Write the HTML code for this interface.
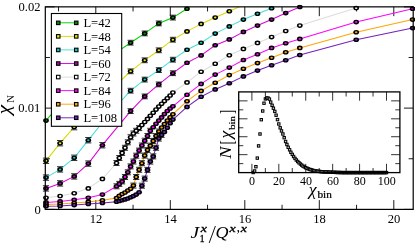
<!DOCTYPE html>
<html><head><meta charset="utf-8"><title>chi_N</title>
<style>
html,body{margin:0;padding:0;background:#fff;}
body{width:415px;height:243px;overflow:hidden;font-family:"Liberation Serif",serif;}
svg text.s{font-family:"Liberation Serif",serif;fill:#000;}
svg{will-change:transform;}
svg text.i{font-style:italic;}
</style></head><body>
<svg width="415" height="243" viewBox="0 0 415 243" style="display:block">
<rect x="0" y="0" width="415" height="243" fill="#fff"/>
<defs><clipPath id="cp"><rect x="41.8" y="4.85" width="373.4" height="207.55"/></clipPath><clipPath id="cl"><rect x="45.3" y="6.85" width="367.9" height="202.55"/></clipPath></defs>
<path d="M58.55 209.4 v-4.6 M58.55 6.85 v4.6 M95.80 209.4 v-9.3 M95.80 6.85 v9.3 M133.05 209.4 v-4.6 M133.05 6.85 v4.6 M170.30 209.4 v-9.3 M170.30 6.85 v9.3 M207.55 209.4 v-4.6 M207.55 6.85 v4.6 M244.80 209.4 v-9.3 M244.80 6.85 v9.3 M282.05 209.4 v-4.6 M282.05 6.85 v4.6 M319.30 209.4 v-9.3 M319.30 6.85 v9.3 M356.55 209.4 v-4.6 M356.55 6.85 v4.6 M393.80 209.4 v-9.3 M393.80 6.85 v9.3 M45.3 209.40 h9.3 M413.2 209.40 h-9.3 M45.3 158.76 h4.6 M413.2 158.76 h-4.6 M45.3 108.12 h9.3 M413.2 108.12 h-9.3 M45.3 57.49 h4.6 M413.2 57.49 h-4.6 M45.3 6.85 h9.3 M413.2 6.85 h-9.3" stroke="#000" stroke-width="0.9" fill="none"/>
<g clip-path="url(#cl)"><path d="M46.0 120.6 L60.1 104.1 L74.2 89.1 L88.3 75.6 L102.4 63.4 L116.5 52.4 L130.6 42.7 L144.7 33.4 L158.8 23.4 L172.9 17.6 L187.0 8.8" stroke="#00d000" stroke-width="1.05" fill="none"/></g>
<g clip-path="url(#cp)"><path d="M113.4 50.0 h6.2 M113.4 54.8 h6.2 M127.5 40.3 h6.2 M127.5 45.1 h6.2 M141.6 31.0 h6.2 M141.6 35.8 h6.2 M155.7 21.0 h6.2 M155.7 25.8 h6.2 M169.8 15.2 h6.2 M169.8 20.0 h6.2" stroke="#000" stroke-width="0.8" fill="none"/><ellipse cx="46.0" cy="120.6" rx="2.85" ry="2.3" fill="#000"/><ellipse cx="46.0" cy="120.6" rx="1.25" ry="1.0" fill="#008b00"/><ellipse cx="60.1" cy="104.1" rx="2.85" ry="2.3" fill="#000"/><ellipse cx="60.1" cy="104.1" rx="1.25" ry="1.0" fill="#008b00"/><ellipse cx="74.2" cy="89.1" rx="2.85" ry="2.3" fill="#000"/><ellipse cx="74.2" cy="89.1" rx="1.25" ry="1.0" fill="#008b00"/><ellipse cx="88.3" cy="75.6" rx="2.85" ry="2.3" fill="#000"/><ellipse cx="88.3" cy="75.6" rx="1.25" ry="1.0" fill="#008b00"/><ellipse cx="102.4" cy="63.4" rx="2.85" ry="2.3" fill="#000"/><ellipse cx="102.4" cy="63.4" rx="1.25" ry="1.0" fill="#008b00"/><ellipse cx="116.5" cy="52.4" rx="2.85" ry="2.3" fill="#000"/><ellipse cx="116.5" cy="52.4" rx="1.25" ry="1.0" fill="#008b00"/><ellipse cx="130.6" cy="42.7" rx="2.85" ry="2.3" fill="#000"/><ellipse cx="130.6" cy="42.7" rx="1.25" ry="1.0" fill="#008b00"/><ellipse cx="144.7" cy="33.4" rx="2.85" ry="2.3" fill="#000"/><ellipse cx="144.7" cy="33.4" rx="1.25" ry="1.0" fill="#008b00"/><ellipse cx="158.8" cy="23.4" rx="2.85" ry="2.3" fill="#000"/><ellipse cx="158.8" cy="23.4" rx="1.25" ry="1.0" fill="#008b00"/><ellipse cx="172.9" cy="17.6" rx="2.85" ry="2.3" fill="#000"/><ellipse cx="172.9" cy="17.6" rx="1.25" ry="1.0" fill="#008b00"/><ellipse cx="187.0" cy="8.8" rx="2.85" ry="2.3" fill="#000"/><ellipse cx="187.0" cy="8.8" rx="1.25" ry="1.0" fill="#008b00"/></g>
<g clip-path="url(#cl)"><path d="M46.0 160.8 L60.1 143.2 L74.2 127.1 L88.3 112.0 L102.4 98.0 L116.5 84.5 L130.6 71.3 L144.7 60.3 L158.8 50.3 L172.9 39.7 L187.0 31.4 L201.1 23.9 L215.2 17.6 L229.3 11.3 L243.4 5.0" stroke="#d8d800" stroke-width="1.05" fill="none"/></g>
<g clip-path="url(#cp)"><path d="M42.9 158.1 h6.2 M42.9 163.5 h6.2 M57.0 140.5 h6.2 M57.0 145.9 h6.2 M71.1 124.4 h6.2 M71.1 129.8 h6.2 M85.2 109.3 h6.2 M85.2 114.7 h6.2 M99.3 95.3 h6.2 M99.3 100.7 h6.2 M113.4 82.1 h6.2 M113.4 86.9 h6.2 M127.5 68.9 h6.2 M127.5 73.7 h6.2 M141.6 57.9 h6.2 M141.6 62.7 h6.2 M155.7 47.9 h6.2 M155.7 52.7 h6.2 M169.8 37.3 h6.2 M169.8 42.1 h6.2" stroke="#000" stroke-width="0.8" fill="none"/><ellipse cx="46.0" cy="160.8" rx="2.85" ry="2.3" fill="#000"/><ellipse cx="46.0" cy="160.8" rx="1.25" ry="1.0" fill="#e6e600"/><ellipse cx="60.1" cy="143.2" rx="2.85" ry="2.3" fill="#000"/><ellipse cx="60.1" cy="143.2" rx="1.25" ry="1.0" fill="#e6e600"/><ellipse cx="74.2" cy="127.1" rx="2.85" ry="2.3" fill="#000"/><ellipse cx="74.2" cy="127.1" rx="1.25" ry="1.0" fill="#e6e600"/><ellipse cx="88.3" cy="112.0" rx="2.85" ry="2.3" fill="#000"/><ellipse cx="88.3" cy="112.0" rx="1.25" ry="1.0" fill="#e6e600"/><ellipse cx="102.4" cy="98.0" rx="2.85" ry="2.3" fill="#000"/><ellipse cx="102.4" cy="98.0" rx="1.25" ry="1.0" fill="#e6e600"/><ellipse cx="116.5" cy="84.5" rx="2.85" ry="2.3" fill="#000"/><ellipse cx="116.5" cy="84.5" rx="1.25" ry="1.0" fill="#e6e600"/><ellipse cx="130.6" cy="71.3" rx="2.85" ry="2.3" fill="#000"/><ellipse cx="130.6" cy="71.3" rx="1.25" ry="1.0" fill="#e6e600"/><ellipse cx="144.7" cy="60.3" rx="2.85" ry="2.3" fill="#000"/><ellipse cx="144.7" cy="60.3" rx="1.25" ry="1.0" fill="#e6e600"/><ellipse cx="158.8" cy="50.3" rx="2.85" ry="2.3" fill="#000"/><ellipse cx="158.8" cy="50.3" rx="1.25" ry="1.0" fill="#e6e600"/><ellipse cx="172.9" cy="39.7" rx="2.85" ry="2.3" fill="#000"/><ellipse cx="172.9" cy="39.7" rx="1.25" ry="1.0" fill="#e6e600"/><ellipse cx="187.0" cy="31.4" rx="2.85" ry="2.3" fill="#000"/><ellipse cx="187.0" cy="31.4" rx="1.25" ry="1.0" fill="#e6e600"/><ellipse cx="201.1" cy="23.9" rx="2.85" ry="2.3" fill="#000"/><ellipse cx="201.1" cy="23.9" rx="1.25" ry="1.0" fill="#e6e600"/><ellipse cx="215.2" cy="17.6" rx="2.85" ry="2.3" fill="#000"/><ellipse cx="215.2" cy="17.6" rx="1.25" ry="1.0" fill="#e6e600"/><ellipse cx="229.3" cy="11.3" rx="2.85" ry="2.3" fill="#000"/><ellipse cx="229.3" cy="11.3" rx="1.25" ry="1.0" fill="#e6e600"/></g>
<g clip-path="url(#cl)"><path d="M46.0 177.6 L60.1 169.4 L74.2 157.8 L88.3 140.2 L102.4 122.5 L116.5 106.0 L130.6 90.7 L144.7 79.6 L158.8 70.1 L172.9 59.7 L187.0 49.7 L201.1 42.7 L215.2 33.6 L229.3 26.4 L243.4 19.6 L257.5 13.8 L271.6 8.3" stroke="#40e0d0" stroke-width="1.05" fill="none"/></g>
<g clip-path="url(#cp)"><path d="M42.9 174.9 h6.2 M42.9 180.3 h6.2 M57.0 166.7 h6.2 M57.0 172.1 h6.2 M71.1 155.1 h6.2 M71.1 160.5 h6.2 M85.2 137.5 h6.2 M85.2 142.9 h6.2 M99.3 119.8 h6.2 M99.3 125.2 h6.2 M113.4 103.6 h6.2 M113.4 108.4 h6.2 M127.5 88.3 h6.2 M127.5 93.1 h6.2 M141.6 77.2 h6.2 M141.6 82.0 h6.2 M155.7 67.7 h6.2 M155.7 72.5 h6.2 M169.8 57.3 h6.2 M169.8 62.1 h6.2" stroke="#000" stroke-width="0.8" fill="none"/><ellipse cx="46.0" cy="177.6" rx="2.85" ry="2.3" fill="#000"/><ellipse cx="46.0" cy="177.6" rx="1.25" ry="1.0" fill="#00c8c8"/><ellipse cx="60.1" cy="169.4" rx="2.85" ry="2.3" fill="#000"/><ellipse cx="60.1" cy="169.4" rx="1.25" ry="1.0" fill="#00c8c8"/><ellipse cx="74.2" cy="157.8" rx="2.85" ry="2.3" fill="#000"/><ellipse cx="74.2" cy="157.8" rx="1.25" ry="1.0" fill="#00c8c8"/><ellipse cx="88.3" cy="140.2" rx="2.85" ry="2.3" fill="#000"/><ellipse cx="88.3" cy="140.2" rx="1.25" ry="1.0" fill="#00c8c8"/><ellipse cx="102.4" cy="122.5" rx="2.85" ry="2.3" fill="#000"/><ellipse cx="102.4" cy="122.5" rx="1.25" ry="1.0" fill="#00c8c8"/><ellipse cx="116.5" cy="106.0" rx="2.85" ry="2.3" fill="#000"/><ellipse cx="116.5" cy="106.0" rx="1.25" ry="1.0" fill="#00c8c8"/><ellipse cx="130.6" cy="90.7" rx="2.85" ry="2.3" fill="#000"/><ellipse cx="130.6" cy="90.7" rx="1.25" ry="1.0" fill="#00c8c8"/><ellipse cx="144.7" cy="79.6" rx="2.85" ry="2.3" fill="#000"/><ellipse cx="144.7" cy="79.6" rx="1.25" ry="1.0" fill="#00c8c8"/><ellipse cx="158.8" cy="70.1" rx="2.85" ry="2.3" fill="#000"/><ellipse cx="158.8" cy="70.1" rx="1.25" ry="1.0" fill="#00c8c8"/><ellipse cx="172.9" cy="59.7" rx="2.85" ry="2.3" fill="#000"/><ellipse cx="172.9" cy="59.7" rx="1.25" ry="1.0" fill="#00c8c8"/><ellipse cx="187.0" cy="49.7" rx="2.85" ry="2.3" fill="#000"/><ellipse cx="187.0" cy="49.7" rx="1.25" ry="1.0" fill="#00c8c8"/><ellipse cx="201.1" cy="42.7" rx="2.85" ry="2.3" fill="#000"/><ellipse cx="201.1" cy="42.7" rx="1.25" ry="1.0" fill="#00c8c8"/><ellipse cx="215.2" cy="33.6" rx="2.85" ry="2.3" fill="#000"/><ellipse cx="215.2" cy="33.6" rx="1.25" ry="1.0" fill="#00c8c8"/><ellipse cx="229.3" cy="26.4" rx="2.85" ry="2.3" fill="#000"/><ellipse cx="229.3" cy="26.4" rx="1.25" ry="1.0" fill="#00c8c8"/><ellipse cx="243.4" cy="19.6" rx="2.85" ry="2.3" fill="#000"/><ellipse cx="243.4" cy="19.6" rx="1.25" ry="1.0" fill="#00c8c8"/><ellipse cx="257.5" cy="13.8" rx="2.85" ry="2.3" fill="#000"/><ellipse cx="257.5" cy="13.8" rx="1.25" ry="1.0" fill="#00c8c8"/><ellipse cx="271.6" cy="8.3" rx="2.85" ry="2.3" fill="#000"/><ellipse cx="271.6" cy="8.3" rx="1.25" ry="1.0" fill="#00c8c8"/></g>
<g clip-path="url(#cl)"><path d="M46.0 188.4 L60.1 183.4 L74.2 176.4 L88.3 163.6 L102.4 145.2 L130.6 111.1 L144.7 96.4 L158.8 84.4 L172.9 73.2 L187.0 62.8 L201.1 55.4 L215.2 45.2 L229.3 39.4 L243.4 31.9 L257.5 25.6 L271.6 19.6 L285.7 13.1 L299.8 7.0" stroke="#e000e0" stroke-width="1.05" fill="none"/></g>
<g clip-path="url(#cp)"><path d="M42.9 185.7 h6.2 M42.9 191.1 h6.2 M57.0 180.7 h6.2 M57.0 186.1 h6.2 M71.1 173.7 h6.2 M71.1 179.1 h6.2 M85.2 160.9 h6.2 M85.2 166.3 h6.2 M99.3 142.5 h6.2 M99.3 147.9 h6.2 M127.5 108.7 h6.2 M127.5 113.5 h6.2 M141.6 94.0 h6.2 M141.6 98.8 h6.2 M155.7 82.0 h6.2 M155.7 86.8 h6.2 M169.8 70.8 h6.2 M169.8 75.6 h6.2" stroke="#000" stroke-width="0.8" fill="none"/><ellipse cx="46.0" cy="188.4" rx="2.85" ry="2.3" fill="#000"/><ellipse cx="46.0" cy="188.4" rx="1.25" ry="1.0" fill="#b000b0"/><ellipse cx="60.1" cy="183.4" rx="2.85" ry="2.3" fill="#000"/><ellipse cx="60.1" cy="183.4" rx="1.25" ry="1.0" fill="#b000b0"/><ellipse cx="74.2" cy="176.4" rx="2.85" ry="2.3" fill="#000"/><ellipse cx="74.2" cy="176.4" rx="1.25" ry="1.0" fill="#b000b0"/><ellipse cx="88.3" cy="163.6" rx="2.85" ry="2.3" fill="#000"/><ellipse cx="88.3" cy="163.6" rx="1.25" ry="1.0" fill="#b000b0"/><ellipse cx="102.4" cy="145.2" rx="2.85" ry="2.3" fill="#000"/><ellipse cx="102.4" cy="145.2" rx="1.25" ry="1.0" fill="#b000b0"/><ellipse cx="130.6" cy="111.1" rx="2.85" ry="2.3" fill="#000"/><ellipse cx="130.6" cy="111.1" rx="1.25" ry="1.0" fill="#b000b0"/><ellipse cx="144.7" cy="96.4" rx="2.85" ry="2.3" fill="#000"/><ellipse cx="144.7" cy="96.4" rx="1.25" ry="1.0" fill="#b000b0"/><ellipse cx="158.8" cy="84.4" rx="2.85" ry="2.3" fill="#000"/><ellipse cx="158.8" cy="84.4" rx="1.25" ry="1.0" fill="#b000b0"/><ellipse cx="172.9" cy="73.2" rx="2.85" ry="2.3" fill="#000"/><ellipse cx="172.9" cy="73.2" rx="1.25" ry="1.0" fill="#b000b0"/><ellipse cx="187.0" cy="62.8" rx="2.85" ry="2.3" fill="#000"/><ellipse cx="187.0" cy="62.8" rx="1.25" ry="1.0" fill="#b000b0"/><ellipse cx="201.1" cy="55.4" rx="2.85" ry="2.3" fill="#000"/><ellipse cx="201.1" cy="55.4" rx="1.25" ry="1.0" fill="#b000b0"/><ellipse cx="215.2" cy="45.2" rx="2.85" ry="2.3" fill="#000"/><ellipse cx="215.2" cy="45.2" rx="1.25" ry="1.0" fill="#b000b0"/><ellipse cx="229.3" cy="39.4" rx="2.85" ry="2.3" fill="#000"/><ellipse cx="229.3" cy="39.4" rx="1.25" ry="1.0" fill="#b000b0"/><ellipse cx="243.4" cy="31.9" rx="2.85" ry="2.3" fill="#000"/><ellipse cx="243.4" cy="31.9" rx="1.25" ry="1.0" fill="#b000b0"/><ellipse cx="257.5" cy="25.6" rx="2.85" ry="2.3" fill="#000"/><ellipse cx="257.5" cy="25.6" rx="1.25" ry="1.0" fill="#b000b0"/><ellipse cx="271.6" cy="19.6" rx="2.85" ry="2.3" fill="#000"/><ellipse cx="271.6" cy="19.6" rx="1.25" ry="1.0" fill="#b000b0"/><ellipse cx="285.7" cy="13.1" rx="2.85" ry="2.3" fill="#000"/><ellipse cx="285.7" cy="13.1" rx="1.25" ry="1.0" fill="#b000b0"/><ellipse cx="299.8" cy="7.0" rx="2.85" ry="2.3" fill="#000"/><ellipse cx="299.8" cy="7.0" rx="1.25" ry="1.0" fill="#b000b0"/></g>
<g clip-path="url(#cl)"><path d="M46.0 197.7 L60.1 196.0 L74.2 193.2 L88.3 188.4 L102.4 178.9 L116.5 163.0 L119.3 158.0 L122.1 152.9 L125.0 147.8 L127.8 142.3 L130.6 137.2 L133.4 133.5 L136.2 130.8 L139.1 128.1 L141.9 125.1 L144.7 122.0 L147.5 118.9 L150.3 115.8 L153.2 112.7 L156.0 109.6 L158.8 106.6 L161.6 103.8 L164.4 101.1 L167.3 98.3 L170.1 95.5 L172.9 92.5 L187.0 82.4 L201.1 71.7 L215.2 63.8 L229.3 55.2 L243.4 48.9 L257.5 42.9 L271.6 37.1 L285.7 31.0 L299.8 25.6 L356.2 8.0" stroke="#dcdcdc" stroke-width="1.05" fill="none"/></g>
<g clip-path="url(#cp)"><path d="M113.4 160.5 h6.2 M113.4 165.5 h6.2 M116.2 155.5 h6.2 M116.2 160.5 h6.2 M119.0 150.4 h6.2 M119.0 155.4 h6.2 M121.9 145.3 h6.2 M121.9 150.3 h6.2 M124.7 139.8 h6.2 M124.7 144.8 h6.2 M127.5 134.7 h6.2 M127.5 139.7 h6.2 M130.3 131.0 h6.2 M130.3 136.0 h6.2 M133.1 128.3 h6.2 M133.1 133.3 h6.2 M136.0 125.6 h6.2 M136.0 130.6 h6.2" stroke="#000" stroke-width="0.8" fill="none"/><ellipse cx="46.0" cy="197.7" rx="2.85" ry="2.3" fill="#000"/><ellipse cx="46.0" cy="197.7" rx="1.25" ry="1.0" fill="#ffffff"/><ellipse cx="60.1" cy="196.0" rx="2.85" ry="2.3" fill="#000"/><ellipse cx="60.1" cy="196.0" rx="1.25" ry="1.0" fill="#ffffff"/><ellipse cx="74.2" cy="193.2" rx="2.85" ry="2.3" fill="#000"/><ellipse cx="74.2" cy="193.2" rx="1.25" ry="1.0" fill="#ffffff"/><ellipse cx="88.3" cy="188.4" rx="2.85" ry="2.3" fill="#000"/><ellipse cx="88.3" cy="188.4" rx="1.25" ry="1.0" fill="#ffffff"/><ellipse cx="102.4" cy="178.9" rx="2.85" ry="2.3" fill="#000"/><ellipse cx="102.4" cy="178.9" rx="1.25" ry="1.0" fill="#ffffff"/><ellipse cx="116.5" cy="163.0" rx="2.85" ry="2.3" fill="#000"/><ellipse cx="116.5" cy="163.0" rx="1.25" ry="1.0" fill="#ffffff"/><ellipse cx="119.3" cy="158.0" rx="2.85" ry="2.3" fill="#000"/><ellipse cx="119.3" cy="158.0" rx="1.25" ry="1.0" fill="#ffffff"/><ellipse cx="122.1" cy="152.9" rx="2.85" ry="2.3" fill="#000"/><ellipse cx="122.1" cy="152.9" rx="1.25" ry="1.0" fill="#ffffff"/><ellipse cx="125.0" cy="147.8" rx="2.85" ry="2.3" fill="#000"/><ellipse cx="125.0" cy="147.8" rx="1.25" ry="1.0" fill="#ffffff"/><ellipse cx="127.8" cy="142.3" rx="2.85" ry="2.3" fill="#000"/><ellipse cx="127.8" cy="142.3" rx="1.25" ry="1.0" fill="#ffffff"/><ellipse cx="130.6" cy="137.2" rx="2.85" ry="2.3" fill="#000"/><ellipse cx="130.6" cy="137.2" rx="1.25" ry="1.0" fill="#ffffff"/><ellipse cx="133.4" cy="133.5" rx="2.85" ry="2.3" fill="#000"/><ellipse cx="133.4" cy="133.5" rx="1.25" ry="1.0" fill="#ffffff"/><ellipse cx="136.2" cy="130.8" rx="2.85" ry="2.3" fill="#000"/><ellipse cx="136.2" cy="130.8" rx="1.25" ry="1.0" fill="#ffffff"/><ellipse cx="139.1" cy="128.1" rx="2.85" ry="2.3" fill="#000"/><ellipse cx="139.1" cy="128.1" rx="1.25" ry="1.0" fill="#ffffff"/><ellipse cx="141.9" cy="125.1" rx="2.85" ry="2.3" fill="#000"/><ellipse cx="141.9" cy="125.1" rx="1.25" ry="1.0" fill="#ffffff"/><ellipse cx="144.7" cy="122.0" rx="2.85" ry="2.3" fill="#000"/><ellipse cx="144.7" cy="122.0" rx="1.25" ry="1.0" fill="#ffffff"/><ellipse cx="147.5" cy="118.9" rx="2.85" ry="2.3" fill="#000"/><ellipse cx="147.5" cy="118.9" rx="1.25" ry="1.0" fill="#ffffff"/><ellipse cx="150.3" cy="115.8" rx="2.85" ry="2.3" fill="#000"/><ellipse cx="150.3" cy="115.8" rx="1.25" ry="1.0" fill="#ffffff"/><ellipse cx="153.2" cy="112.7" rx="2.85" ry="2.3" fill="#000"/><ellipse cx="153.2" cy="112.7" rx="1.25" ry="1.0" fill="#ffffff"/><ellipse cx="156.0" cy="109.6" rx="2.85" ry="2.3" fill="#000"/><ellipse cx="156.0" cy="109.6" rx="1.25" ry="1.0" fill="#ffffff"/><ellipse cx="158.8" cy="106.6" rx="2.85" ry="2.3" fill="#000"/><ellipse cx="158.8" cy="106.6" rx="1.25" ry="1.0" fill="#ffffff"/><ellipse cx="161.6" cy="103.8" rx="2.85" ry="2.3" fill="#000"/><ellipse cx="161.6" cy="103.8" rx="1.25" ry="1.0" fill="#ffffff"/><ellipse cx="164.4" cy="101.1" rx="2.85" ry="2.3" fill="#000"/><ellipse cx="164.4" cy="101.1" rx="1.25" ry="1.0" fill="#ffffff"/><ellipse cx="167.3" cy="98.3" rx="2.85" ry="2.3" fill="#000"/><ellipse cx="167.3" cy="98.3" rx="1.25" ry="1.0" fill="#ffffff"/><ellipse cx="170.1" cy="95.5" rx="2.85" ry="2.3" fill="#000"/><ellipse cx="170.1" cy="95.5" rx="1.25" ry="1.0" fill="#ffffff"/><ellipse cx="172.9" cy="92.5" rx="2.85" ry="2.3" fill="#000"/><ellipse cx="172.9" cy="92.5" rx="1.25" ry="1.0" fill="#ffffff"/><ellipse cx="187.0" cy="82.4" rx="2.85" ry="2.3" fill="#000"/><ellipse cx="187.0" cy="82.4" rx="1.25" ry="1.0" fill="#ffffff"/><ellipse cx="201.1" cy="71.7" rx="2.85" ry="2.3" fill="#000"/><ellipse cx="201.1" cy="71.7" rx="1.25" ry="1.0" fill="#ffffff"/><ellipse cx="215.2" cy="63.8" rx="2.85" ry="2.3" fill="#000"/><ellipse cx="215.2" cy="63.8" rx="1.25" ry="1.0" fill="#ffffff"/><ellipse cx="229.3" cy="55.2" rx="2.85" ry="2.3" fill="#000"/><ellipse cx="229.3" cy="55.2" rx="1.25" ry="1.0" fill="#ffffff"/><ellipse cx="243.4" cy="48.9" rx="2.85" ry="2.3" fill="#000"/><ellipse cx="243.4" cy="48.9" rx="1.25" ry="1.0" fill="#ffffff"/><ellipse cx="257.5" cy="42.9" rx="2.85" ry="2.3" fill="#000"/><ellipse cx="257.5" cy="42.9" rx="1.25" ry="1.0" fill="#ffffff"/><ellipse cx="271.6" cy="37.1" rx="2.85" ry="2.3" fill="#000"/><ellipse cx="271.6" cy="37.1" rx="1.25" ry="1.0" fill="#ffffff"/><ellipse cx="285.7" cy="31.0" rx="2.85" ry="2.3" fill="#000"/><ellipse cx="285.7" cy="31.0" rx="1.25" ry="1.0" fill="#ffffff"/><ellipse cx="299.8" cy="25.6" rx="2.85" ry="2.3" fill="#000"/><ellipse cx="299.8" cy="25.6" rx="1.25" ry="1.0" fill="#ffffff"/><ellipse cx="356.2" cy="8.0" rx="2.85" ry="2.3" fill="#000"/><ellipse cx="356.2" cy="8.0" rx="1.25" ry="1.0" fill="#ffffff"/></g>
<g clip-path="url(#cl)"><path d="M46.0 202.4 L60.1 201.4 L74.2 199.8 L88.3 197.7 L102.4 194.6 L116.5 186.3 L119.3 183.9 L122.1 181.4 L125.0 177.0 L127.8 172.3 L130.6 166.4 L133.4 161.5 L136.2 155.7 L139.1 150.6 L141.9 145.5 L144.7 140.7 L147.5 136.0 L150.3 130.8 L153.2 127.2 L156.0 123.8 L158.8 120.6 L161.6 117.4 L164.4 114.1 L167.3 111.0 L170.1 108.5 L172.9 106.3 L187.0 94.7 L201.1 83.9 L215.2 74.6 L229.3 67.6 L243.4 60.0 L257.5 54.3 L271.6 47.9 L285.7 43.2 L299.8 38.9 L356.2 22.1 L412.6 8.8" stroke="#ff00ff" stroke-width="1.05" fill="none"/></g>
<g clip-path="url(#cp)"><path d="M113.4 183.8 h6.2 M113.4 188.8 h6.2 M116.2 181.4 h6.2 M116.2 186.4 h6.2 M119.0 178.9 h6.2 M119.0 183.9 h6.2 M121.9 174.5 h6.2 M121.9 179.5 h6.2 M124.7 169.8 h6.2 M124.7 174.8 h6.2 M127.5 163.9 h6.2 M127.5 168.9 h6.2 M130.3 159.0 h6.2 M130.3 164.0 h6.2 M133.1 153.2 h6.2 M133.1 158.2 h6.2 M136.0 148.1 h6.2 M136.0 153.1 h6.2 M138.8 143.0 h6.2 M138.8 148.0 h6.2 M141.6 138.2 h6.2 M141.6 143.2 h6.2 M144.4 133.5 h6.2 M144.4 138.5 h6.2 M147.2 128.3 h6.2 M147.2 133.3 h6.2" stroke="#000" stroke-width="0.8" fill="none"/><ellipse cx="46.0" cy="202.4" rx="2.85" ry="2.3" fill="#000"/><ellipse cx="46.0" cy="202.4" rx="1.25" ry="1.0" fill="#ff00ff"/><ellipse cx="60.1" cy="201.4" rx="2.85" ry="2.3" fill="#000"/><ellipse cx="60.1" cy="201.4" rx="1.25" ry="1.0" fill="#ff00ff"/><ellipse cx="74.2" cy="199.8" rx="2.85" ry="2.3" fill="#000"/><ellipse cx="74.2" cy="199.8" rx="1.25" ry="1.0" fill="#ff00ff"/><ellipse cx="88.3" cy="197.7" rx="2.85" ry="2.3" fill="#000"/><ellipse cx="88.3" cy="197.7" rx="1.25" ry="1.0" fill="#ff00ff"/><ellipse cx="102.4" cy="194.6" rx="2.85" ry="2.3" fill="#000"/><ellipse cx="102.4" cy="194.6" rx="1.25" ry="1.0" fill="#ff00ff"/><ellipse cx="116.5" cy="186.3" rx="2.85" ry="2.3" fill="#000"/><ellipse cx="116.5" cy="186.3" rx="1.25" ry="1.0" fill="#ff00ff"/><ellipse cx="119.3" cy="183.9" rx="2.85" ry="2.3" fill="#000"/><ellipse cx="119.3" cy="183.9" rx="1.25" ry="1.0" fill="#ff00ff"/><ellipse cx="122.1" cy="181.4" rx="2.85" ry="2.3" fill="#000"/><ellipse cx="122.1" cy="181.4" rx="1.25" ry="1.0" fill="#ff00ff"/><ellipse cx="125.0" cy="177.0" rx="2.85" ry="2.3" fill="#000"/><ellipse cx="125.0" cy="177.0" rx="1.25" ry="1.0" fill="#ff00ff"/><ellipse cx="127.8" cy="172.3" rx="2.85" ry="2.3" fill="#000"/><ellipse cx="127.8" cy="172.3" rx="1.25" ry="1.0" fill="#ff00ff"/><ellipse cx="130.6" cy="166.4" rx="2.85" ry="2.3" fill="#000"/><ellipse cx="130.6" cy="166.4" rx="1.25" ry="1.0" fill="#ff00ff"/><ellipse cx="133.4" cy="161.5" rx="2.85" ry="2.3" fill="#000"/><ellipse cx="133.4" cy="161.5" rx="1.25" ry="1.0" fill="#ff00ff"/><ellipse cx="136.2" cy="155.7" rx="2.85" ry="2.3" fill="#000"/><ellipse cx="136.2" cy="155.7" rx="1.25" ry="1.0" fill="#ff00ff"/><ellipse cx="139.1" cy="150.6" rx="2.85" ry="2.3" fill="#000"/><ellipse cx="139.1" cy="150.6" rx="1.25" ry="1.0" fill="#ff00ff"/><ellipse cx="141.9" cy="145.5" rx="2.85" ry="2.3" fill="#000"/><ellipse cx="141.9" cy="145.5" rx="1.25" ry="1.0" fill="#ff00ff"/><ellipse cx="144.7" cy="140.7" rx="2.85" ry="2.3" fill="#000"/><ellipse cx="144.7" cy="140.7" rx="1.25" ry="1.0" fill="#ff00ff"/><ellipse cx="147.5" cy="136.0" rx="2.85" ry="2.3" fill="#000"/><ellipse cx="147.5" cy="136.0" rx="1.25" ry="1.0" fill="#ff00ff"/><ellipse cx="150.3" cy="130.8" rx="2.85" ry="2.3" fill="#000"/><ellipse cx="150.3" cy="130.8" rx="1.25" ry="1.0" fill="#ff00ff"/><ellipse cx="153.2" cy="127.2" rx="2.85" ry="2.3" fill="#000"/><ellipse cx="153.2" cy="127.2" rx="1.25" ry="1.0" fill="#ff00ff"/><ellipse cx="156.0" cy="123.8" rx="2.85" ry="2.3" fill="#000"/><ellipse cx="156.0" cy="123.8" rx="1.25" ry="1.0" fill="#ff00ff"/><ellipse cx="158.8" cy="120.6" rx="2.85" ry="2.3" fill="#000"/><ellipse cx="158.8" cy="120.6" rx="1.25" ry="1.0" fill="#ff00ff"/><ellipse cx="161.6" cy="117.4" rx="2.85" ry="2.3" fill="#000"/><ellipse cx="161.6" cy="117.4" rx="1.25" ry="1.0" fill="#ff00ff"/><ellipse cx="164.4" cy="114.1" rx="2.85" ry="2.3" fill="#000"/><ellipse cx="164.4" cy="114.1" rx="1.25" ry="1.0" fill="#ff00ff"/><ellipse cx="167.3" cy="111.0" rx="2.85" ry="2.3" fill="#000"/><ellipse cx="167.3" cy="111.0" rx="1.25" ry="1.0" fill="#ff00ff"/><ellipse cx="170.1" cy="108.5" rx="2.85" ry="2.3" fill="#000"/><ellipse cx="170.1" cy="108.5" rx="1.25" ry="1.0" fill="#ff00ff"/><ellipse cx="172.9" cy="106.3" rx="2.85" ry="2.3" fill="#000"/><ellipse cx="172.9" cy="106.3" rx="1.25" ry="1.0" fill="#ff00ff"/><ellipse cx="187.0" cy="94.7" rx="2.85" ry="2.3" fill="#000"/><ellipse cx="187.0" cy="94.7" rx="1.25" ry="1.0" fill="#ff00ff"/><ellipse cx="201.1" cy="83.9" rx="2.85" ry="2.3" fill="#000"/><ellipse cx="201.1" cy="83.9" rx="1.25" ry="1.0" fill="#ff00ff"/><ellipse cx="215.2" cy="74.6" rx="2.85" ry="2.3" fill="#000"/><ellipse cx="215.2" cy="74.6" rx="1.25" ry="1.0" fill="#ff00ff"/><ellipse cx="229.3" cy="67.6" rx="2.85" ry="2.3" fill="#000"/><ellipse cx="229.3" cy="67.6" rx="1.25" ry="1.0" fill="#ff00ff"/><ellipse cx="243.4" cy="60.0" rx="2.85" ry="2.3" fill="#000"/><ellipse cx="243.4" cy="60.0" rx="1.25" ry="1.0" fill="#ff00ff"/><ellipse cx="257.5" cy="54.3" rx="2.85" ry="2.3" fill="#000"/><ellipse cx="257.5" cy="54.3" rx="1.25" ry="1.0" fill="#ff00ff"/><ellipse cx="271.6" cy="47.9" rx="2.85" ry="2.3" fill="#000"/><ellipse cx="271.6" cy="47.9" rx="1.25" ry="1.0" fill="#ff00ff"/><ellipse cx="285.7" cy="43.2" rx="2.85" ry="2.3" fill="#000"/><ellipse cx="285.7" cy="43.2" rx="1.25" ry="1.0" fill="#ff00ff"/><ellipse cx="299.8" cy="38.9" rx="2.85" ry="2.3" fill="#000"/><ellipse cx="299.8" cy="38.9" rx="1.25" ry="1.0" fill="#ff00ff"/><ellipse cx="356.2" cy="22.1" rx="2.85" ry="2.3" fill="#000"/><ellipse cx="356.2" cy="22.1" rx="1.25" ry="1.0" fill="#ff00ff"/><ellipse cx="412.6" cy="8.8" rx="2.85" ry="2.3" fill="#000"/><ellipse cx="412.6" cy="8.8" rx="1.25" ry="1.0" fill="#ff00ff"/></g>
<g clip-path="url(#cl)"><path d="M46.0 204.6 L60.1 203.9 L74.2 203.0 L88.3 201.9 L102.4 200.3 L116.5 198.0 L119.3 195.8 L122.1 194.0 L125.0 192.5 L127.8 190.5 L130.6 188.8 L133.4 185.6 L136.2 177.0 L139.1 169.8 L141.9 163.2 L144.7 155.6 L147.5 150.1 L150.3 145.7 L153.2 140.9 L156.0 136.1 L158.8 131.5 L161.6 127.5 L164.4 124.1 L167.3 120.5 L170.1 117.2 L172.9 114.2 L187.0 101.2 L201.1 90.9 L215.2 82.7 L229.3 75.1 L243.4 68.8 L257.5 63.1 L271.6 57.7 L285.7 52.2 L299.8 47.9 L356.2 32.2 L412.6 19.6" stroke="#ffa500" stroke-width="1.05" fill="none"/></g>
<g clip-path="url(#cp)"><path d="M130.3 183.1 h6.2 M130.3 188.1 h6.2 M133.1 174.5 h6.2 M133.1 179.5 h6.2 M136.0 167.3 h6.2 M136.0 172.3 h6.2 M138.8 160.7 h6.2 M138.8 165.7 h6.2 M141.6 153.1 h6.2 M141.6 158.1 h6.2 M144.4 147.6 h6.2 M144.4 152.6 h6.2 M147.2 143.2 h6.2 M147.2 148.2 h6.2 M150.1 138.4 h6.2 M150.1 143.4 h6.2 M152.9 133.6 h6.2 M152.9 138.6 h6.2 M155.7 129.0 h6.2 M155.7 134.0 h6.2" stroke="#000" stroke-width="0.8" fill="none"/><ellipse cx="46.0" cy="204.6" rx="2.85" ry="2.3" fill="#000"/><ellipse cx="46.0" cy="204.6" rx="1.25" ry="1.0" fill="#ffa500"/><ellipse cx="60.1" cy="203.9" rx="2.85" ry="2.3" fill="#000"/><ellipse cx="60.1" cy="203.9" rx="1.25" ry="1.0" fill="#ffa500"/><ellipse cx="74.2" cy="203.0" rx="2.85" ry="2.3" fill="#000"/><ellipse cx="74.2" cy="203.0" rx="1.25" ry="1.0" fill="#ffa500"/><ellipse cx="88.3" cy="201.9" rx="2.85" ry="2.3" fill="#000"/><ellipse cx="88.3" cy="201.9" rx="1.25" ry="1.0" fill="#ffa500"/><ellipse cx="102.4" cy="200.3" rx="2.85" ry="2.3" fill="#000"/><ellipse cx="102.4" cy="200.3" rx="1.25" ry="1.0" fill="#ffa500"/><ellipse cx="116.5" cy="198.0" rx="2.85" ry="2.3" fill="#000"/><ellipse cx="116.5" cy="198.0" rx="1.25" ry="1.0" fill="#ffa500"/><ellipse cx="119.3" cy="195.8" rx="2.85" ry="2.3" fill="#000"/><ellipse cx="119.3" cy="195.8" rx="1.25" ry="1.0" fill="#ffa500"/><ellipse cx="122.1" cy="194.0" rx="2.85" ry="2.3" fill="#000"/><ellipse cx="122.1" cy="194.0" rx="1.25" ry="1.0" fill="#ffa500"/><ellipse cx="125.0" cy="192.5" rx="2.85" ry="2.3" fill="#000"/><ellipse cx="125.0" cy="192.5" rx="1.25" ry="1.0" fill="#ffa500"/><ellipse cx="127.8" cy="190.5" rx="2.85" ry="2.3" fill="#000"/><ellipse cx="127.8" cy="190.5" rx="1.25" ry="1.0" fill="#ffa500"/><ellipse cx="130.6" cy="188.8" rx="2.85" ry="2.3" fill="#000"/><ellipse cx="130.6" cy="188.8" rx="1.25" ry="1.0" fill="#ffa500"/><ellipse cx="133.4" cy="185.6" rx="2.85" ry="2.3" fill="#000"/><ellipse cx="133.4" cy="185.6" rx="1.25" ry="1.0" fill="#ffa500"/><ellipse cx="136.2" cy="177.0" rx="2.85" ry="2.3" fill="#000"/><ellipse cx="136.2" cy="177.0" rx="1.25" ry="1.0" fill="#ffa500"/><ellipse cx="139.1" cy="169.8" rx="2.85" ry="2.3" fill="#000"/><ellipse cx="139.1" cy="169.8" rx="1.25" ry="1.0" fill="#ffa500"/><ellipse cx="141.9" cy="163.2" rx="2.85" ry="2.3" fill="#000"/><ellipse cx="141.9" cy="163.2" rx="1.25" ry="1.0" fill="#ffa500"/><ellipse cx="144.7" cy="155.6" rx="2.85" ry="2.3" fill="#000"/><ellipse cx="144.7" cy="155.6" rx="1.25" ry="1.0" fill="#ffa500"/><ellipse cx="147.5" cy="150.1" rx="2.85" ry="2.3" fill="#000"/><ellipse cx="147.5" cy="150.1" rx="1.25" ry="1.0" fill="#ffa500"/><ellipse cx="150.3" cy="145.7" rx="2.85" ry="2.3" fill="#000"/><ellipse cx="150.3" cy="145.7" rx="1.25" ry="1.0" fill="#ffa500"/><ellipse cx="153.2" cy="140.9" rx="2.85" ry="2.3" fill="#000"/><ellipse cx="153.2" cy="140.9" rx="1.25" ry="1.0" fill="#ffa500"/><ellipse cx="156.0" cy="136.1" rx="2.85" ry="2.3" fill="#000"/><ellipse cx="156.0" cy="136.1" rx="1.25" ry="1.0" fill="#ffa500"/><ellipse cx="158.8" cy="131.5" rx="2.85" ry="2.3" fill="#000"/><ellipse cx="158.8" cy="131.5" rx="1.25" ry="1.0" fill="#ffa500"/><ellipse cx="161.6" cy="127.5" rx="2.85" ry="2.3" fill="#000"/><ellipse cx="161.6" cy="127.5" rx="1.25" ry="1.0" fill="#ffa500"/><ellipse cx="164.4" cy="124.1" rx="2.85" ry="2.3" fill="#000"/><ellipse cx="164.4" cy="124.1" rx="1.25" ry="1.0" fill="#ffa500"/><ellipse cx="167.3" cy="120.5" rx="2.85" ry="2.3" fill="#000"/><ellipse cx="167.3" cy="120.5" rx="1.25" ry="1.0" fill="#ffa500"/><ellipse cx="170.1" cy="117.2" rx="2.85" ry="2.3" fill="#000"/><ellipse cx="170.1" cy="117.2" rx="1.25" ry="1.0" fill="#ffa500"/><ellipse cx="172.9" cy="114.2" rx="2.85" ry="2.3" fill="#000"/><ellipse cx="172.9" cy="114.2" rx="1.25" ry="1.0" fill="#ffa500"/><ellipse cx="187.0" cy="101.2" rx="2.85" ry="2.3" fill="#000"/><ellipse cx="187.0" cy="101.2" rx="1.25" ry="1.0" fill="#ffa500"/><ellipse cx="201.1" cy="90.9" rx="2.85" ry="2.3" fill="#000"/><ellipse cx="201.1" cy="90.9" rx="1.25" ry="1.0" fill="#ffa500"/><ellipse cx="215.2" cy="82.7" rx="2.85" ry="2.3" fill="#000"/><ellipse cx="215.2" cy="82.7" rx="1.25" ry="1.0" fill="#ffa500"/><ellipse cx="229.3" cy="75.1" rx="2.85" ry="2.3" fill="#000"/><ellipse cx="229.3" cy="75.1" rx="1.25" ry="1.0" fill="#ffa500"/><ellipse cx="243.4" cy="68.8" rx="2.85" ry="2.3" fill="#000"/><ellipse cx="243.4" cy="68.8" rx="1.25" ry="1.0" fill="#ffa500"/><ellipse cx="257.5" cy="63.1" rx="2.85" ry="2.3" fill="#000"/><ellipse cx="257.5" cy="63.1" rx="1.25" ry="1.0" fill="#ffa500"/><ellipse cx="271.6" cy="57.7" rx="2.85" ry="2.3" fill="#000"/><ellipse cx="271.6" cy="57.7" rx="1.25" ry="1.0" fill="#ffa500"/><ellipse cx="285.7" cy="52.2" rx="2.85" ry="2.3" fill="#000"/><ellipse cx="285.7" cy="52.2" rx="1.25" ry="1.0" fill="#ffa500"/><ellipse cx="299.8" cy="47.9" rx="2.85" ry="2.3" fill="#000"/><ellipse cx="299.8" cy="47.9" rx="1.25" ry="1.0" fill="#ffa500"/><ellipse cx="356.2" cy="32.2" rx="2.85" ry="2.3" fill="#000"/><ellipse cx="356.2" cy="32.2" rx="1.25" ry="1.0" fill="#ffa500"/><ellipse cx="412.6" cy="19.6" rx="2.85" ry="2.3" fill="#000"/><ellipse cx="412.6" cy="19.6" rx="1.25" ry="1.0" fill="#ffa500"/></g>
<g clip-path="url(#cl)"><path d="M46.0 206.3 L60.1 206.0 L74.2 205.1 L88.3 204.0 L102.4 203.0 L116.5 201.7 L119.3 201.0 L122.1 200.2 L125.0 199.4 L127.8 198.5 L130.6 197.3 L133.4 196.1 L136.2 194.6 L139.1 192.3 L141.9 185.7 L144.7 178.6 L147.5 169.9 L150.3 161.6 L153.2 156.4 L156.0 147.8 L158.8 138.6 L161.6 134.9 L164.4 131.9 L167.3 127.8 L170.1 123.3 L172.9 119.6 L187.0 106.9 L201.1 96.7 L215.2 89.4 L229.3 83.2 L243.4 76.4 L257.5 70.6 L271.6 65.2 L285.7 60.2 L299.8 55.0 L356.2 39.7 L412.6 28.1" stroke="#7221bc" stroke-width="1.05" fill="none"/></g>
<g clip-path="url(#cp)"><path d="M138.8 183.2 h6.2 M138.8 188.2 h6.2 M141.6 176.1 h6.2 M141.6 181.1 h6.2 M144.4 167.4 h6.2 M144.4 172.4 h6.2 M147.2 159.1 h6.2 M147.2 164.1 h6.2 M150.1 153.9 h6.2 M150.1 158.9 h6.2 M152.9 145.3 h6.2 M152.9 150.3 h6.2 M155.7 136.1 h6.2 M155.7 141.1 h6.2 M158.5 132.4 h6.2 M158.5 137.4 h6.2" stroke="#000" stroke-width="0.8" fill="none"/><ellipse cx="46.0" cy="206.3" rx="2.85" ry="2.3" fill="#000"/><ellipse cx="46.0" cy="206.3" rx="1.25" ry="1.0" fill="#7221bc"/><ellipse cx="60.1" cy="206.0" rx="2.85" ry="2.3" fill="#000"/><ellipse cx="60.1" cy="206.0" rx="1.25" ry="1.0" fill="#7221bc"/><ellipse cx="74.2" cy="205.1" rx="2.85" ry="2.3" fill="#000"/><ellipse cx="74.2" cy="205.1" rx="1.25" ry="1.0" fill="#7221bc"/><ellipse cx="88.3" cy="204.0" rx="2.85" ry="2.3" fill="#000"/><ellipse cx="88.3" cy="204.0" rx="1.25" ry="1.0" fill="#7221bc"/><ellipse cx="102.4" cy="203.0" rx="2.85" ry="2.3" fill="#000"/><ellipse cx="102.4" cy="203.0" rx="1.25" ry="1.0" fill="#7221bc"/><ellipse cx="116.5" cy="201.7" rx="2.85" ry="2.3" fill="#000"/><ellipse cx="116.5" cy="201.7" rx="1.25" ry="1.0" fill="#7221bc"/><ellipse cx="119.3" cy="201.0" rx="2.85" ry="2.3" fill="#000"/><ellipse cx="119.3" cy="201.0" rx="1.25" ry="1.0" fill="#7221bc"/><ellipse cx="122.1" cy="200.2" rx="2.85" ry="2.3" fill="#000"/><ellipse cx="122.1" cy="200.2" rx="1.25" ry="1.0" fill="#7221bc"/><ellipse cx="125.0" cy="199.4" rx="2.85" ry="2.3" fill="#000"/><ellipse cx="125.0" cy="199.4" rx="1.25" ry="1.0" fill="#7221bc"/><ellipse cx="127.8" cy="198.5" rx="2.85" ry="2.3" fill="#000"/><ellipse cx="127.8" cy="198.5" rx="1.25" ry="1.0" fill="#7221bc"/><ellipse cx="130.6" cy="197.3" rx="2.85" ry="2.3" fill="#000"/><ellipse cx="130.6" cy="197.3" rx="1.25" ry="1.0" fill="#7221bc"/><ellipse cx="133.4" cy="196.1" rx="2.85" ry="2.3" fill="#000"/><ellipse cx="133.4" cy="196.1" rx="1.25" ry="1.0" fill="#7221bc"/><ellipse cx="136.2" cy="194.6" rx="2.85" ry="2.3" fill="#000"/><ellipse cx="136.2" cy="194.6" rx="1.25" ry="1.0" fill="#7221bc"/><ellipse cx="139.1" cy="192.3" rx="2.85" ry="2.3" fill="#000"/><ellipse cx="139.1" cy="192.3" rx="1.25" ry="1.0" fill="#7221bc"/><ellipse cx="141.9" cy="185.7" rx="2.85" ry="2.3" fill="#000"/><ellipse cx="141.9" cy="185.7" rx="1.25" ry="1.0" fill="#7221bc"/><ellipse cx="144.7" cy="178.6" rx="2.85" ry="2.3" fill="#000"/><ellipse cx="144.7" cy="178.6" rx="1.25" ry="1.0" fill="#7221bc"/><ellipse cx="147.5" cy="169.9" rx="2.85" ry="2.3" fill="#000"/><ellipse cx="147.5" cy="169.9" rx="1.25" ry="1.0" fill="#7221bc"/><ellipse cx="150.3" cy="161.6" rx="2.85" ry="2.3" fill="#000"/><ellipse cx="150.3" cy="161.6" rx="1.25" ry="1.0" fill="#7221bc"/><ellipse cx="153.2" cy="156.4" rx="2.85" ry="2.3" fill="#000"/><ellipse cx="153.2" cy="156.4" rx="1.25" ry="1.0" fill="#7221bc"/><ellipse cx="156.0" cy="147.8" rx="2.85" ry="2.3" fill="#000"/><ellipse cx="156.0" cy="147.8" rx="1.25" ry="1.0" fill="#7221bc"/><ellipse cx="158.8" cy="138.6" rx="2.85" ry="2.3" fill="#000"/><ellipse cx="158.8" cy="138.6" rx="1.25" ry="1.0" fill="#7221bc"/><ellipse cx="161.6" cy="134.9" rx="2.85" ry="2.3" fill="#000"/><ellipse cx="161.6" cy="134.9" rx="1.25" ry="1.0" fill="#7221bc"/><ellipse cx="164.4" cy="131.9" rx="2.85" ry="2.3" fill="#000"/><ellipse cx="164.4" cy="131.9" rx="1.25" ry="1.0" fill="#7221bc"/><ellipse cx="167.3" cy="127.8" rx="2.85" ry="2.3" fill="#000"/><ellipse cx="167.3" cy="127.8" rx="1.25" ry="1.0" fill="#7221bc"/><ellipse cx="170.1" cy="123.3" rx="2.85" ry="2.3" fill="#000"/><ellipse cx="170.1" cy="123.3" rx="1.25" ry="1.0" fill="#7221bc"/><ellipse cx="172.9" cy="119.6" rx="2.85" ry="2.3" fill="#000"/><ellipse cx="172.9" cy="119.6" rx="1.25" ry="1.0" fill="#7221bc"/><ellipse cx="187.0" cy="106.9" rx="2.85" ry="2.3" fill="#000"/><ellipse cx="187.0" cy="106.9" rx="1.25" ry="1.0" fill="#7221bc"/><ellipse cx="201.1" cy="96.7" rx="2.85" ry="2.3" fill="#000"/><ellipse cx="201.1" cy="96.7" rx="1.25" ry="1.0" fill="#7221bc"/><ellipse cx="215.2" cy="89.4" rx="2.85" ry="2.3" fill="#000"/><ellipse cx="215.2" cy="89.4" rx="1.25" ry="1.0" fill="#7221bc"/><ellipse cx="229.3" cy="83.2" rx="2.85" ry="2.3" fill="#000"/><ellipse cx="229.3" cy="83.2" rx="1.25" ry="1.0" fill="#7221bc"/><ellipse cx="243.4" cy="76.4" rx="2.85" ry="2.3" fill="#000"/><ellipse cx="243.4" cy="76.4" rx="1.25" ry="1.0" fill="#7221bc"/><ellipse cx="257.5" cy="70.6" rx="2.85" ry="2.3" fill="#000"/><ellipse cx="257.5" cy="70.6" rx="1.25" ry="1.0" fill="#7221bc"/><ellipse cx="271.6" cy="65.2" rx="2.85" ry="2.3" fill="#000"/><ellipse cx="271.6" cy="65.2" rx="1.25" ry="1.0" fill="#7221bc"/><ellipse cx="285.7" cy="60.2" rx="2.85" ry="2.3" fill="#000"/><ellipse cx="285.7" cy="60.2" rx="1.25" ry="1.0" fill="#7221bc"/><ellipse cx="299.8" cy="55.0" rx="2.85" ry="2.3" fill="#000"/><ellipse cx="299.8" cy="55.0" rx="1.25" ry="1.0" fill="#7221bc"/><ellipse cx="356.2" cy="39.7" rx="2.85" ry="2.3" fill="#000"/><ellipse cx="356.2" cy="39.7" rx="1.25" ry="1.0" fill="#7221bc"/><ellipse cx="412.6" cy="28.1" rx="2.85" ry="2.3" fill="#000"/><ellipse cx="412.6" cy="28.1" rx="1.25" ry="1.0" fill="#7221bc"/></g>
<rect x="45.3" y="6.85" width="367.9" height="202.55" fill="none" stroke="#000" stroke-width="1.2"/>
<rect x="51.4" y="13.5" width="70.30000000000001" height="112.8" fill="#fff" stroke="#000" stroke-width="1.1"/>
<path d="M58.2 22.8 H76.3" stroke="#00d000" stroke-width="0.95"/>
<rect x="56.5" y="21.1" width="3.5" height="3.5" fill="#008b00" stroke="#000" stroke-width="1.1"/>
<rect x="74.5" y="21.1" width="3.5" height="3.5" fill="#008b00" stroke="#000" stroke-width="1.1"/>
<text x="83.4" y="27.0" font-size="12.6" class="s">L=42</text>
<path d="M58.2 36.4 H76.3" stroke="#d8d800" stroke-width="0.95"/>
<rect x="56.5" y="34.6" width="3.5" height="3.5" fill="#e6e600" stroke="#000" stroke-width="1.1"/>
<rect x="74.5" y="34.6" width="3.5" height="3.5" fill="#e6e600" stroke="#000" stroke-width="1.1"/>
<text x="83.4" y="40.6" font-size="12.6" class="s">L=48</text>
<path d="M58.2 49.9 H76.3" stroke="#40e0d0" stroke-width="0.95"/>
<rect x="56.5" y="48.2" width="3.5" height="3.5" fill="#00c8c8" stroke="#000" stroke-width="1.1"/>
<rect x="74.5" y="48.2" width="3.5" height="3.5" fill="#00c8c8" stroke="#000" stroke-width="1.1"/>
<text x="83.4" y="54.1" font-size="12.6" class="s">L=54</text>
<path d="M58.2 63.5 H76.3" stroke="#e000e0" stroke-width="0.95"/>
<rect x="56.5" y="61.8" width="3.5" height="3.5" fill="#b000b0" stroke="#000" stroke-width="1.1"/>
<rect x="74.5" y="61.8" width="3.5" height="3.5" fill="#b000b0" stroke="#000" stroke-width="1.1"/>
<text x="83.4" y="67.7" font-size="12.6" class="s">L=60</text>
<path d="M58.2 77.1 H76.3" stroke="#dcdcdc" stroke-width="0.95"/>
<rect x="56.5" y="75.3" width="3.5" height="3.5" fill="#ffffff" stroke="#000" stroke-width="1.1"/>
<rect x="74.5" y="75.3" width="3.5" height="3.5" fill="#ffffff" stroke="#000" stroke-width="1.1"/>
<text x="83.4" y="81.3" font-size="12.6" class="s">L=72</text>
<path d="M58.2 90.6 H76.3" stroke="#ff00ff" stroke-width="0.95"/>
<rect x="56.5" y="88.9" width="3.5" height="3.5" fill="#ff00ff" stroke="#000" stroke-width="1.1"/>
<rect x="74.5" y="88.9" width="3.5" height="3.5" fill="#ff00ff" stroke="#000" stroke-width="1.1"/>
<text x="83.4" y="94.8" font-size="12.6" class="s">L=84</text>
<path d="M58.2 104.2 H76.3" stroke="#ffa500" stroke-width="0.95"/>
<rect x="56.5" y="102.5" width="3.5" height="3.5" fill="#ffa500" stroke="#000" stroke-width="1.1"/>
<rect x="74.5" y="102.5" width="3.5" height="3.5" fill="#ffa500" stroke="#000" stroke-width="1.1"/>
<text x="83.4" y="108.4" font-size="12.6" class="s">L=96</text>
<path d="M58.2 117.8 H76.3" stroke="#7221bc" stroke-width="0.95"/>
<rect x="56.5" y="116.0" width="3.5" height="3.5" fill="#7221bc" stroke="#000" stroke-width="1.1"/>
<rect x="74.5" y="116.0" width="3.5" height="3.5" fill="#7221bc" stroke="#000" stroke-width="1.1"/>
<text x="83.4" y="122.0" font-size="12.6" class="s">L=108</text>
<text transform="translate(96.00,222.80) scale(0.94,1)" font-size="13.4" text-anchor="middle" class="s">12</text>
<text transform="translate(170.50,222.80) scale(0.94,1)" font-size="13.4" text-anchor="middle" class="s">14</text>
<text transform="translate(245.00,222.80) scale(0.94,1)" font-size="13.4" text-anchor="middle" class="s">16</text>
<text transform="translate(319.50,222.80) scale(0.94,1)" font-size="13.4" text-anchor="middle" class="s">18</text>
<text transform="translate(394.00,222.80) scale(0.94,1)" font-size="13.4" text-anchor="middle" class="s">20</text>
<text transform="translate(40.80,213.60) scale(0.94,1)" font-size="13.4" text-anchor="end" class="s">0</text>
<text transform="translate(40.30,112.03) scale(0.94,1)" font-size="13.4" text-anchor="end" class="s">0.01</text>
<text transform="translate(40.50,11.45) scale(0.94,1)" font-size="13.4" text-anchor="end" class="s">0.02</text>
<text transform="translate(190.51,238.14) scale(0.973,0.835)" font-size="20" class="s i">J</text>
<text transform="translate(200.87,231.50) scale(0.702,0.490)" font-size="20" class="s i" stroke="#000" stroke-width="0.6">x</text>
<text transform="translate(199.75,241.80) scale(0.483,0.515)" font-size="20" class="s" stroke="#000" stroke-width="0.6">1</text>
<text transform="translate(209.53,243.35) scale(0.900,1.301)" font-size="20" class="s i">/</text>
<text transform="translate(215.60,238.33) scale(0.902,0.855)" font-size="20" class="s i">Q</text>
<text transform="translate(229.57,231.50) scale(0.702,0.501)" font-size="20" class="s i" stroke="#000" stroke-width="0.6">x</text>
<text transform="translate(236.46,231.60) scale(0.705,0.681)" font-size="20" class="s">,</text>
<text transform="translate(240.67,231.50) scale(0.702,0.501)" font-size="20" class="s i" stroke="#000" stroke-width="0.6">x</text>
<g transform="rotate(-90)"><text transform="translate(-114.55,9.76) scale(1.092,0.949)" font-size="20" class="s i">χ</text><text transform="translate(-102.81,14.20) scale(0.537,0.535)" font-size="20" class="s">N</text></g>
<rect x="238.7" y="91.9" width="161.2" height="80.69999999999999" fill="#fff" stroke="none"/>
<path d="M251.90 172.6 v-8.8 M251.90 91.9 v8.8 M265.36 172.6 v-4.6 M265.36 91.9 v4.6 M278.82 172.6 v-8.8 M278.82 91.9 v8.8 M292.28 172.6 v-4.6 M292.28 91.9 v4.6 M305.74 172.6 v-8.8 M305.74 91.9 v8.8 M319.20 172.6 v-4.6 M319.20 91.9 v4.6 M332.66 172.6 v-8.8 M332.66 91.9 v8.8 M346.12 172.6 v-4.6 M346.12 91.9 v4.6 M359.58 172.6 v-8.8 M359.58 91.9 v8.8 M373.04 172.6 v-4.6 M373.04 91.9 v4.6 M386.50 172.6 v-8.8 M386.50 91.9 v8.8 M238.7 163.63 h4.6 M399.9 163.63 h-4.6 M238.7 154.67 h8.8 M399.9 154.67 h-8.8 M238.7 145.70 h4.6 M399.9 145.70 h-4.6 M238.7 136.73 h8.8 M399.9 136.73 h-8.8 M238.7 127.77 h4.6 M399.9 127.77 h-4.6 M238.7 118.80 h8.8 M399.9 118.80 h-8.8 M238.7 109.83 h4.6 M399.9 109.83 h-4.6 M238.7 100.87 h8.8 M399.9 100.87 h-8.8" stroke="#000" stroke-width="0.8" fill="none"/>
<rect x="252.0" y="171.3" width="2.4" height="2.4" fill="#c8c8c8" stroke="#000" stroke-width="1"/><rect x="253.4" y="169.8" width="2.4" height="2.4" fill="#c8c8c8" stroke="#000" stroke-width="1"/><rect x="254.7" y="165.5" width="2.4" height="2.4" fill="#c8c8c8" stroke="#000" stroke-width="1"/><rect x="256.1" y="156.9" width="2.4" height="2.4" fill="#c8c8c8" stroke="#000" stroke-width="1"/><rect x="257.4" y="144.7" width="2.4" height="2.4" fill="#c8c8c8" stroke="#000" stroke-width="1"/><rect x="258.8" y="132.8" width="2.4" height="2.4" fill="#c8c8c8" stroke="#000" stroke-width="1"/><rect x="260.1" y="118.5" width="2.4" height="2.4" fill="#c8c8c8" stroke="#000" stroke-width="1"/><rect x="261.5" y="109.8" width="2.4" height="2.4" fill="#c8c8c8" stroke="#000" stroke-width="1"/><rect x="262.8" y="102.0" width="2.4" height="2.4" fill="#c8c8c8" stroke="#000" stroke-width="1"/><rect x="264.2" y="97.7" width="2.4" height="2.4" fill="#c8c8c8" stroke="#000" stroke-width="1"/><rect x="265.5" y="96.7" width="2.4" height="2.4" fill="#c8c8c8" stroke="#000" stroke-width="1"/><rect x="266.9" y="96.9" width="2.4" height="2.4" fill="#c8c8c8" stroke="#000" stroke-width="1"/><rect x="268.2" y="97.9" width="2.4" height="2.4" fill="#c8c8c8" stroke="#000" stroke-width="1"/><rect x="269.5" y="100.9" width="2.4" height="2.4" fill="#c8c8c8" stroke="#000" stroke-width="1"/><rect x="270.9" y="104.1" width="2.4" height="2.4" fill="#c8c8c8" stroke="#000" stroke-width="1"/><rect x="272.2" y="107.0" width="2.4" height="2.4" fill="#c8c8c8" stroke="#000" stroke-width="1"/><rect x="273.6" y="110.2" width="2.4" height="2.4" fill="#c8c8c8" stroke="#000" stroke-width="1"/><rect x="274.9" y="114.0" width="2.4" height="2.4" fill="#c8c8c8" stroke="#000" stroke-width="1"/><rect x="276.3" y="118.4" width="2.4" height="2.4" fill="#c8c8c8" stroke="#000" stroke-width="1"/><rect x="277.6" y="122.8" width="2.4" height="2.4" fill="#c8c8c8" stroke="#000" stroke-width="1"/><rect x="279.0" y="126.6" width="2.4" height="2.4" fill="#c8c8c8" stroke="#000" stroke-width="1"/><rect x="280.3" y="129.7" width="2.4" height="2.4" fill="#c8c8c8" stroke="#000" stroke-width="1"/><rect x="281.7" y="132.8" width="2.4" height="2.4" fill="#c8c8c8" stroke="#000" stroke-width="1"/><rect x="283.0" y="136.5" width="2.4" height="2.4" fill="#c8c8c8" stroke="#000" stroke-width="1"/><rect x="284.4" y="140.3" width="2.4" height="2.4" fill="#c8c8c8" stroke="#000" stroke-width="1"/><rect x="285.7" y="143.3" width="2.4" height="2.4" fill="#c8c8c8" stroke="#000" stroke-width="1"/><rect x="287.0" y="146.1" width="2.4" height="2.4" fill="#c8c8c8" stroke="#000" stroke-width="1"/><rect x="288.4" y="148.6" width="2.4" height="2.4" fill="#c8c8c8" stroke="#000" stroke-width="1"/><rect x="289.7" y="151.1" width="2.4" height="2.4" fill="#c8c8c8" stroke="#000" stroke-width="1"/><rect x="291.1" y="153.2" width="2.4" height="2.4" fill="#c8c8c8" stroke="#000" stroke-width="1"/><rect x="292.4" y="155.3" width="2.4" height="2.4" fill="#c8c8c8" stroke="#000" stroke-width="1"/><rect x="293.8" y="157.2" width="2.4" height="2.4" fill="#c8c8c8" stroke="#000" stroke-width="1"/><rect x="295.1" y="158.8" width="2.4" height="2.4" fill="#c8c8c8" stroke="#000" stroke-width="1"/><rect x="296.5" y="160.3" width="2.4" height="2.4" fill="#c8c8c8" stroke="#000" stroke-width="1"/><rect x="297.8" y="161.6" width="2.4" height="2.4" fill="#c8c8c8" stroke="#000" stroke-width="1"/><rect x="299.2" y="162.8" width="2.4" height="2.4" fill="#c8c8c8" stroke="#000" stroke-width="1"/><rect x="300.5" y="163.9" width="2.4" height="2.4" fill="#c8c8c8" stroke="#000" stroke-width="1"/><rect x="301.8" y="164.9" width="2.4" height="2.4" fill="#c8c8c8" stroke="#000" stroke-width="1"/><rect x="303.2" y="165.7" width="2.4" height="2.4" fill="#c8c8c8" stroke="#000" stroke-width="1"/><rect x="304.5" y="166.5" width="2.4" height="2.4" fill="#c8c8c8" stroke="#000" stroke-width="1"/><rect x="305.9" y="167.1" width="2.4" height="2.4" fill="#c8c8c8" stroke="#000" stroke-width="1"/><rect x="307.2" y="167.7" width="2.4" height="2.4" fill="#c8c8c8" stroke="#000" stroke-width="1"/><rect x="308.6" y="168.2" width="2.4" height="2.4" fill="#c8c8c8" stroke="#000" stroke-width="1"/><rect x="309.9" y="168.6" width="2.4" height="2.4" fill="#c8c8c8" stroke="#000" stroke-width="1"/><rect x="311.3" y="169.0" width="2.4" height="2.4" fill="#c8c8c8" stroke="#000" stroke-width="1"/><rect x="312.6" y="169.4" width="2.4" height="2.4" fill="#c8c8c8" stroke="#000" stroke-width="1"/><rect x="314.0" y="169.7" width="2.4" height="2.4" fill="#c8c8c8" stroke="#000" stroke-width="1"/><rect x="315.3" y="169.9" width="2.4" height="2.4" fill="#c8c8c8" stroke="#000" stroke-width="1"/><rect x="316.7" y="170.1" width="2.4" height="2.4" fill="#c8c8c8" stroke="#000" stroke-width="1"/><rect x="318.0" y="170.2" width="2.4" height="2.4" fill="#c8c8c8" stroke="#000" stroke-width="1"/><rect x="319.3" y="170.4" width="2.4" height="2.4" fill="#c8c8c8" stroke="#000" stroke-width="1"/><rect x="320.7" y="170.5" width="2.4" height="2.4" fill="#c8c8c8" stroke="#000" stroke-width="1"/><rect x="322.0" y="170.6" width="2.4" height="2.4" fill="#c8c8c8" stroke="#000" stroke-width="1"/><rect x="323.4" y="170.7" width="2.4" height="2.4" fill="#c8c8c8" stroke="#000" stroke-width="1"/><rect x="324.7" y="170.8" width="2.4" height="2.4" fill="#c8c8c8" stroke="#000" stroke-width="1"/><rect x="326.1" y="170.8" width="2.4" height="2.4" fill="#c8c8c8" stroke="#000" stroke-width="1"/><rect x="327.4" y="170.9" width="2.4" height="2.4" fill="#c8c8c8" stroke="#000" stroke-width="1"/><rect x="328.8" y="171.0" width="2.4" height="2.4" fill="#c8c8c8" stroke="#000" stroke-width="1"/><rect x="330.1" y="171.0" width="2.4" height="2.4" fill="#c8c8c8" stroke="#000" stroke-width="1"/><rect x="331.5" y="171.1" width="2.4" height="2.4" fill="#c8c8c8" stroke="#000" stroke-width="1"/><rect x="332.8" y="171.1" width="2.4" height="2.4" fill="#c8c8c8" stroke="#000" stroke-width="1"/><rect x="334.2" y="171.2" width="2.4" height="2.4" fill="#c8c8c8" stroke="#000" stroke-width="1"/><rect x="335.5" y="171.2" width="2.4" height="2.4" fill="#c8c8c8" stroke="#000" stroke-width="1"/><rect x="336.8" y="171.3" width="2.4" height="2.4" fill="#c8c8c8" stroke="#000" stroke-width="1"/><rect x="338.2" y="171.3" width="2.4" height="2.4" fill="#c8c8c8" stroke="#000" stroke-width="1"/><rect x="339.5" y="171.3" width="2.4" height="2.4" fill="#c8c8c8" stroke="#000" stroke-width="1"/><rect x="340.9" y="171.4" width="2.4" height="2.4" fill="#c8c8c8" stroke="#000" stroke-width="1"/><rect x="342.2" y="171.4" width="2.4" height="2.4" fill="#c8c8c8" stroke="#000" stroke-width="1"/><rect x="343.6" y="171.4" width="2.4" height="2.4" fill="#c8c8c8" stroke="#000" stroke-width="1"/><rect x="344.9" y="171.4" width="2.4" height="2.4" fill="#c8c8c8" stroke="#000" stroke-width="1"/><rect x="346.3" y="171.4" width="2.4" height="2.4" fill="#c8c8c8" stroke="#000" stroke-width="1"/><rect x="347.6" y="171.4" width="2.4" height="2.4" fill="#c8c8c8" stroke="#000" stroke-width="1"/><rect x="349.0" y="171.4" width="2.4" height="2.4" fill="#c8c8c8" stroke="#000" stroke-width="1"/><rect x="350.3" y="171.4" width="2.4" height="2.4" fill="#c8c8c8" stroke="#000" stroke-width="1"/><rect x="351.7" y="171.4" width="2.4" height="2.4" fill="#c8c8c8" stroke="#000" stroke-width="1"/><rect x="353.0" y="171.4" width="2.4" height="2.4" fill="#c8c8c8" stroke="#000" stroke-width="1"/><rect x="354.3" y="171.4" width="2.4" height="2.4" fill="#c8c8c8" stroke="#000" stroke-width="1"/><rect x="355.7" y="171.4" width="2.4" height="2.4" fill="#c8c8c8" stroke="#000" stroke-width="1"/><rect x="357.0" y="171.4" width="2.4" height="2.4" fill="#c8c8c8" stroke="#000" stroke-width="1"/><rect x="358.4" y="171.4" width="2.4" height="2.4" fill="#c8c8c8" stroke="#000" stroke-width="1"/><rect x="359.7" y="171.4" width="2.4" height="2.4" fill="#c8c8c8" stroke="#000" stroke-width="1"/><rect x="361.1" y="171.4" width="2.4" height="2.4" fill="#c8c8c8" stroke="#000" stroke-width="1"/><rect x="362.4" y="171.4" width="2.4" height="2.4" fill="#c8c8c8" stroke="#000" stroke-width="1"/><rect x="363.8" y="171.4" width="2.4" height="2.4" fill="#c8c8c8" stroke="#000" stroke-width="1"/><rect x="365.1" y="171.4" width="2.4" height="2.4" fill="#c8c8c8" stroke="#000" stroke-width="1"/><rect x="366.5" y="171.4" width="2.4" height="2.4" fill="#c8c8c8" stroke="#000" stroke-width="1"/><rect x="367.8" y="171.4" width="2.4" height="2.4" fill="#c8c8c8" stroke="#000" stroke-width="1"/><rect x="369.1" y="171.4" width="2.4" height="2.4" fill="#c8c8c8" stroke="#000" stroke-width="1"/><rect x="370.5" y="171.4" width="2.4" height="2.4" fill="#c8c8c8" stroke="#000" stroke-width="1"/><rect x="371.8" y="171.4" width="2.4" height="2.4" fill="#c8c8c8" stroke="#000" stroke-width="1"/><rect x="373.2" y="171.4" width="2.4" height="2.4" fill="#c8c8c8" stroke="#000" stroke-width="1"/><rect x="374.5" y="171.4" width="2.4" height="2.4" fill="#c8c8c8" stroke="#000" stroke-width="1"/><rect x="375.9" y="171.4" width="2.4" height="2.4" fill="#c8c8c8" stroke="#000" stroke-width="1"/><rect x="377.2" y="171.4" width="2.4" height="2.4" fill="#c8c8c8" stroke="#000" stroke-width="1"/><rect x="378.6" y="171.4" width="2.4" height="2.4" fill="#c8c8c8" stroke="#000" stroke-width="1"/><rect x="379.9" y="171.4" width="2.4" height="2.4" fill="#c8c8c8" stroke="#000" stroke-width="1"/><rect x="381.3" y="171.4" width="2.4" height="2.4" fill="#c8c8c8" stroke="#000" stroke-width="1"/><rect x="382.6" y="171.4" width="2.4" height="2.4" fill="#c8c8c8" stroke="#000" stroke-width="1"/><rect x="384.0" y="171.4" width="2.4" height="2.4" fill="#c8c8c8" stroke="#000" stroke-width="1"/><rect x="385.3" y="171.4" width="2.4" height="2.4" fill="#c8c8c8" stroke="#000" stroke-width="1"/>
<rect x="238.7" y="91.9" width="161.2" height="80.69999999999999" fill="none" stroke="#000" stroke-width="1.3"/>
<text x="252.1" y="185.3" font-size="12" text-anchor="middle" class="s">0</text>
<text x="279.0" y="185.3" font-size="12" text-anchor="middle" class="s">20</text>
<text x="305.9" y="185.3" font-size="12" text-anchor="middle" class="s">40</text>
<text x="332.9" y="185.3" font-size="12" text-anchor="middle" class="s">60</text>
<text x="359.8" y="185.3" font-size="12" text-anchor="middle" class="s">80</text>
<text x="386.7" y="185.3" font-size="12" text-anchor="middle" class="s">100</text>
<text transform="translate(308.64,194.54) scale(0.897,0.789)" font-size="20" class="s i">χ</text>
<text transform="translate(317.40,198.31) scale(0.562,0.483)" font-size="20" class="s" stroke="#000" stroke-width="0.5">bin</text>
<g transform="rotate(-90)"><text transform="translate(-158.67,231.40) scale(0.916,0.878)" font-size="20" class="s i">N</text><text transform="translate(-144.37,232.58) scale(0.584,0.979)" font-size="20" class="s">[</text><text transform="translate(-138.58,231.21) scale(0.888,0.796)" font-size="20" class="s i">χ</text><text transform="translate(-129.80,235.22) scale(0.539,0.419)" font-size="20" class="s" stroke="#000" stroke-width="0.5">bin</text><text transform="translate(-114.04,232.58) scale(0.606,0.979)" font-size="20" class="s">]</text></g>
</svg>
</body></html>
